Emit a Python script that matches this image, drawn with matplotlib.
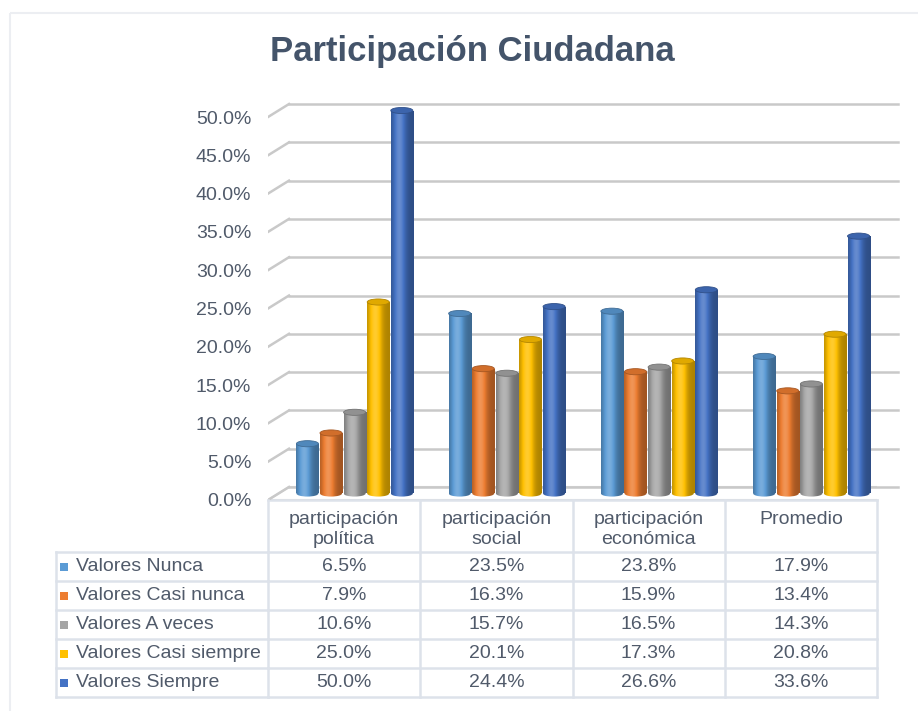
import numpy as np
import matplotlib
matplotlib.use("Agg")
import matplotlib.pyplot as plt
from matplotlib.colors import to_rgb
from matplotlib.patches import Rectangle, Ellipse, Polygon
from matplotlib.lines import Line2D
from matplotlib.transforms import ScaledTranslation, Affine2D, blended_transform_factory

plt.rcParams['font.family'] = ['Liberation Sans', 'DejaVu Sans']

categories = ["participación\npolítica", "participación\nsocial",
              "participación\neconómica", "Promedio"]
series = ["Valores Nunca", "Valores Casi nunca", "Valores A veces",
          "Valores Casi siempre", "Valores Siempre"]
nunca = [6.5, 23.5, 23.8, 17.9]
casi_nunca = [7.9, 16.3, 15.9, 13.4]
a_veces = [10.6, 15.7, 16.5, 14.3]
casi_siempre = [25.0, 20.1, 17.3, 20.8]
siempre = [50.0, 24.4, 26.6, 33.6]
values = [nunca, casi_nunca, a_veces, casi_siempre, siempre]
colors = ["#5B9BD5", "#ED7D31", "#A5A5A5", "#FFC000", "#4472C4"]
yticks = list(range(0, 51, 5))

W, H = 918, 711
TXT = "#505A6A"
GRID = "#C9C9C9"
TABLE = "#DDE2EA"
FS = 14

fig = plt.figure(figsize=(W / 100, H / 100), dpi=100)
fx = lambda px: px / W
fy = lambda py: 1 - py / H
px_tr = Affine2D().scale(1 / W, -1 / H).translate(0, 1) + fig.transFigure

# outer frame
fig.patches.append(Rectangle((10, 13), 920, 720, transform=px_tr, fill=False,
                             edgecolor="#ECEEF2", lw=1.5))

ax = fig.add_axes([fx(268), fy(500), fx(877) - fx(268), fy(101.7) - fy(500)])
ax.set_xlim(-0.5, 3.5)
ax.set_ylim(0, 52)
for s in ax.spines.values():
    s.set_visible(False)
ax.set_xticks([])
ax.set_yticks(yticks)
ax.yaxis.set_major_formatter(lambda v, p: f"{v:.1f}%")
ax.tick_params(axis='y', length=0, pad=12, labelsize=FS, labelcolor=TXT)
ax.patch.set_alpha(0)

back = ax.transData + ScaledTranslation(0.21, 0.13, fig.dpi_scale_trans)
mid = ax.transData + ScaledTranslation(0.105, 0.065, fig.dpi_scale_trans)

# floor
f0 = ax.transData.transform([(-0.5, 0), (3.5, 0)])
b0 = back.transform([(-0.5, 0), (3.5, 0)])
ax.add_artist(Polygon([f0[0], f0[1], b0[1], b0[0]], closed=True, transform=None,
                      facecolor="white", edgecolor="#DADADA", lw=1.5, zorder=1))

# back wall gridlines + side wall diagonals
for t in yticks:
    ax.plot([-0.5, 3.5], [t, t], transform=back, color=GRID, lw=1.8,
            clip_on=False, zorder=2)
    p0 = ax.transData.transform((-0.5, t))
    p1 = back.transform((-0.5, t))
    ax.add_artist(Line2D([p0[0], p1[0]], [p0[1], p1[1]], transform=None,
                         color=GRID, lw=1.8, zorder=2))


def shade_img(color, n=80):
    rgb = np.array(to_rgb(color))
    t = np.linspace(0, 1, n)
    f = 0.68 + 0.5 * np.exp(-((t - 0.36) / 0.28) ** 2)
    img = np.empty((1, n, 3))
    for i, k in enumerate(f):
        if k <= 1:
            img[0, i] = rgb * k
        else:
            img[0, i] = rgb + (1 - rgb) * (k - 1)
    return np.clip(img, 0, 1)


bw = 0.145
step = 0.155
eh = 0.8
for i, (vals, col) in enumerate(zip(values, colors)):
    img = shade_img(col)
    rgb = np.array(to_rgb(col))
    for j, v in enumerate(vals):
        xc = j + (i - 2) * step
        x0, x1 = xc - bw / 2, xc + bw / 2
        body = Rectangle((x0, 0), bw, v, transform=mid, facecolor="none",
                         edgecolor="none")
        bottom = Ellipse((xc, 0), bw, eh, transform=mid, facecolor="none",
                         edgecolor="none")
        for clip in (body, bottom):
            ax.add_patch(clip)
            im = ax.imshow(img, extent=[x0, x1, -eh, v], aspect='auto',
                           transform=mid, zorder=3, interpolation='bilinear')
            im.set_clip_path(clip)
        ax.add_patch(Ellipse((xc, v), bw, eh, transform=mid,
                             facecolor=rgb * 0.88, edgecolor=rgb * 0.7,
                             lw=0.6, zorder=4))
ax.set_xlim(-0.5, 3.5)
ax.set_ylim(0, 52)

# title
fig.text(fx(472), fy(51), "Participación Ciudadana", ha='center', va='center',
         fontsize=25, fontweight='bold', color="#44546A")

# data table
tx = blended_transform_factory(ax.transData, px_tr)
header_top, header_bot = 500, 552
row_h = 29
rows_bot = header_bot + row_h * len(series)
bounds = [-0.5, 0.5, 1.5, 2.5, 3.5]
ax.add_artist(Line2D([-0.5, 3.5], [header_top, header_top], transform=tx,
                     color=TABLE, lw=1.8, clip_on=False, zorder=1))
for b in bounds:
    ax.add_artist(Line2D([b, b], [header_top, rows_bot], transform=tx,
                         color=TABLE, lw=1.8, clip_on=False))
for k in range(len(series) + 1):
    yy = header_bot + row_h * k
    fig.add_artist(Line2D([56, 268], [yy, yy], transform=px_tr, color=TABLE, lw=1.8))
    ax.add_artist(Line2D([-0.5, 3.5], [yy, yy], transform=tx, color=TABLE,
                         lw=1.8, clip_on=False))
fig.add_artist(Line2D([56, 56], [header_bot, rows_bot], transform=px_tr,
                      color=TABLE, lw=1.8))

for j, cat in enumerate(categories):
    ax.text(j, 511, cat, transform=tx, ha='center', va='top', fontsize=FS,
            color=TXT, linespacing=1.25, clip_on=False)

for i, (name, vals, col) in enumerate(zip(series, values, colors)):
    yc = header_bot + row_h * i + row_h / 2
    fig.patches.append(Rectangle((60, yc - 4), 8, 8, transform=px_tr,
                                 facecolor=col, edgecolor="none"))
    fig.text(fx(76), fy(yc), name, ha='left', va='center', fontsize=FS, color=TXT)
    for j, v in enumerate(vals):
        ax.text(j, yc, f"{v:.1f}%", transform=tx, ha='center', va='center',
                fontsize=FS, color=TXT, clip_on=False)

fig.savefig("out.png", dpi=100)
